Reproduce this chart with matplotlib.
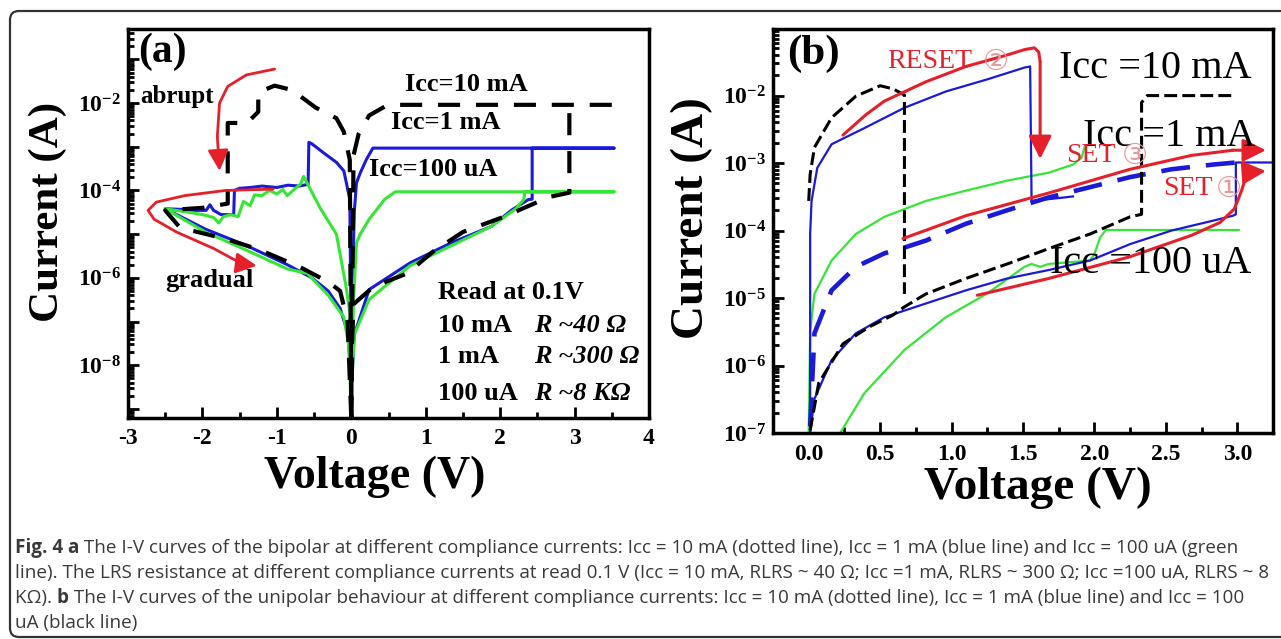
import matplotlib
matplotlib.use('Agg')
import matplotlib.pyplot as plt
import numpy as np
from matplotlib.ticker import (LogLocator, FuncFormatter, MultipleLocator,
                               NullFormatter, FormatStrFormatter)
from matplotlib.patches import FancyBboxPatch
from matplotlib.transforms import IdentityTransform

plt.rcParams['font.family'] = ['Liberation Serif', 'DejaVu Serif']
plt.rcParams['font.weight'] = 'bold'
plt.rcParams['axes.unicode_minus'] = False
plt.rcParams['mathtext.fontset'] = 'custom'
plt.rcParams['mathtext.rm'] = 'Liberation Serif:bold'
plt.rcParams['mathtext.bf'] = 'Liberation Serif:bold'
plt.rcParams['mathtext.it'] = 'Liberation Serif:bold:italic'

BLUE = '#1a1ad8'
GREEN = '#35e635'
RED = '#e6202a'
PINK = '#e79a9a'

# ---------------- panel (a): bipolar, voltage (V) / current (A)
blue_a_v = [0.0, 0.01, 0.04, 0.24, 0.79, 1.34, 1.88, 2.16, 2.38, 2.43, 2.43, 3.53,
            0.29, 0.20, 0.12, 0.07, 0.04, 0.02, 0.0, -0.01, -0.02, -0.10, -0.20,
            -0.37, -0.53, -0.57, -0.58, -0.70, -0.85, -1.00, -1.20, -1.35, -1.50,
            -1.57, -1.58, -1.75, -1.85, -1.90, -1.95, -2.10, -2.30, -2.50, -2.20,
            -1.96, -1.41, -0.86, -0.53, -0.31, -0.15, -0.04, -0.01, 0.0]
blue_a_i = [6.3e-10, 5e-9, 5e-8, 5.4e-7, 2.2e-6, 6.3e-6, 1.5e-5, 3.6e-5, 6.2e-5, 6.3e-5,
            9.3e-4, 9.3e-4, 9.3e-4, 5e-4, 2.5e-4, 1.5e-4, 3.2e-5, 1e-6, 6.3e-10, 1e-6,
            6.3e-5, 2.8e-4, 4.4e-4, 7.2e-4, 1.17e-3, 1.26e-3, 1.38e-4, 1.26e-4, 1.32e-4,
            1.17e-4, 1.26e-4, 1.17e-4, 1.12e-4, 1e-4, 2.8e-5, 2.8e-5, 3.5e-5, 4.7e-5,
            3.5e-5, 3.5e-5, 3.7e-5, 3.8e-5, 2.1e-5, 1.3e-5, 5.5e-6, 2e-6, 1e-6, 5e-7,
            2e-7, 5e-8, 5e-9, 6.3e-10]

green_a_v = [0.0, 0.01, 0.04, 0.24, 0.79, 1.34, 1.88, 2.21, 2.32, 2.33, 3.53, 0.59,
             0.45, 0.24, 0.12, 0.07, 0.03, 0.0, -0.02, -0.07, -0.20, -0.42, -0.64,
             -0.68, -0.75, -0.86, -0.92, -1.00, -1.10, -1.20, -1.30, -1.36, -1.45,
             -1.52, -1.62, -1.72, -1.78, -1.85, -2.00, -2.20, -2.50, -1.96, -1.41,
             -0.86, -0.59, -0.31, -0.10, -0.03, 0.0]
green_a_i = [6.3e-10, 5e-9, 5e-8, 3.2e-7, 1.9e-6, 5.4e-6, 1.5e-5, 3.8e-5, 6.3e-5, 9.3e-5,
             9.3e-5, 9.3e-5, 6.3e-5, 2.2e-5, 1e-5, 6.3e-6, 3.2e-7, 6.3e-10, 1.6e-7,
             6.3e-7, 1e-5, 4e-5, 2.1e-4, 1.4e-4, 1.12e-4, 7.6e-5, 1.05e-4, 8.3e-5, 1e-4,
             7.6e-5, 7.9e-5, 4.5e-5, 5.6e-5, 2.5e-5, 2.8e-5, 2.5e-5, 1.8e-5, 2.4e-5,
             2.8e-5, 3.2e-5, 3.8e-5, 1.12e-5, 4.3e-6, 1.6e-6, 1.26e-6, 4e-7, 1.26e-7,
             2.5e-8, 6.3e-10]

black_a_set_v = [0.0, 0.01, 0.03, 0.30, 0.75, 1.10, 1.50, 2.05, 2.66, 2.93, 2.93]
black_a_set_i = [6.3e-10, 3.2e-8, 2.5e-7, 6.3e-7, 1.26e-6, 4e-6, 1.12e-5, 2.5e-5,
                 7.1e-5, 8.9e-5, 9.1e-3]
black_a_reset_v = [3.5, 0.65, 0.45, 0.24, 0.10, 0.03, 0.0, -0.02, -0.10, -0.20, -0.48,
                   -0.80, -1.03, -1.20, -1.25, -1.25, -1.40, -1.66, -1.66, -2.00, -2.50,
                   -2.30, -1.70, -1.25, -0.70, -0.30, -0.15, -0.05, 0.0]
black_a_reset_i = [9.1e-3, 9.1e-3, 8.3e-3, 5.2e-3, 2e-3, 6.3e-4, 6.3e-10, 5e-4, 2.2e-3,
                   4.5e-3, 7.9e-3, 2e-2, 2.5e-2, 1.9e-2, 1.7e-2, 6.3e-3, 3.5e-3, 3.5e-3,
                   5e-5, 4e-5, 3.5e-5, 1.4e-5, 7.9e-6, 4.5e-6, 1.8e-6, 7.9e-7, 5e-7, 1e-7,
                   6.3e-10]

abrupt_v = [-1.03, -1.41, -1.66, -1.77, -1.80, -1.77]
abrupt_i = [6.0e-2, 4.4e-2, 2.4e-2, 1.0e-2, 1.7e-3, 2.8e-4]
gradual_v = [-1.05, -1.69, -2.24, -2.62, -2.73, -2.65, -2.35, -1.85, -1.47, -1.27]
gradual_i = [1.07e-4, 1.0e-4, 7.6e-5, 5.4e-5, 3.5e-5, 2.2e-5, 1.12e-5, 4.7e-6, 2.1e-6, 1.9e-6]

# ---------------- panel (b): unipolar
black_b_set_v = [0.01, 0.07, 0.24, 0.42, 0.59, 0.67, 0.82, 1.10, 1.39, 1.68, 1.97, 2.25,
                 2.33, 2.33, 2.37, 2.97]
black_b_set_i = [1.1e-7, 5.5e-7, 2.1e-6, 3.7e-6, 5.6e-6, 7.4e-6, 1.15e-5, 1.95e-5, 3.2e-5,
                 5.4e-5, 8.9e-5, 1.6e-4, 1.74e-4, 7.9e-3, 1.0e-2, 1.0e-2]
black_b_reset_v = [0.0, 0.01, 0.04, 0.16, 0.33, 0.50, 0.59, 0.67, 0.67]
black_b_reset_i = [2.75e-4, 6.8e-4, 1.7e-3, 4.7e-3, 9.8e-3, 1.4e-2, 1.26e-2, 1.02e-2, 1.15e-5]

blue_b_set_v = [0.01, 0.04, 0.16, 0.33, 0.53, 0.82, 1.10, 1.39, 1.68, 1.97, 2.25, 2.54,
                2.83, 2.97, 2.99, 2.99, 3.26]
blue_b_set_i = [1e-7, 3.2e-7, 1.2e-6, 3.0e-6, 5.2e-6, 8.3e-6, 1.3e-5, 1.95e-5, 2.6e-5,
                3.6e-5, 6.3e-5, 1e-4, 1.4e-4, 1.66e-4, 1.74e-4, 1.02e-3, 1.02e-3]
blue_b_reset_v = [0.01, 0.01, 0.02, 0.06, 0.16, 0.39, 0.67, 0.96, 1.25, 1.51, 1.55, 1.56,
                  1.70, 1.85]
blue_b_reset_i = [1e-7, 8.9e-5, 2.75e-4, 8.5e-4, 1.9e-3, 3.3e-3, 6.6e-3, 1.15e-2, 1.74e-2,
                  2.6e-2, 2.7e-2, 2.75e-4, 2.95e-4, 3.2e-4]
blue_b_dash_v = [0.01, 0.04, 0.16, 0.33, 0.53, 0.67, 0.82, 1.10, 1.39, 1.68, 1.97, 2.25,
                 2.54, 2.83, 2.99]
blue_b_dash_i = [1.26e-7, 3.0e-6, 1.3e-5, 2.9e-5, 4.6e-5, 5.6e-5, 7.1e-5, 1.26e-4, 2.0e-4,
                 3.1e-4, 4.4e-4, 6.2e-4, 8.1e-4, 9.5e-4, 1.02e-3]

green_b_up_v = [0.0, 0.01, 0.04, 0.16, 0.33, 0.53, 0.82, 1.10, 1.39, 1.68, 1.85, 1.91, 1.93]
green_b_up_i = [1e-7, 3.2e-6, 1.15e-5, 3.6e-5, 8.9e-5, 1.6e-4, 2.75e-4, 3.9e-4, 5.5e-4,
                7.2e-4, 9.5e-4, 1.2e-3, 1.7e-3]
green_b_low_v = [0.22, 0.39, 0.67, 0.96, 1.25, 1.51, 1.56, 1.62, 1.68, 1.97, 2.00, 2.04,
                 2.08, 3.01]
green_b_low_i = [1e-7, 3.9e-7, 1.7e-6, 5.2e-6, 1.17e-5, 2.9e-5, 3.2e-5, 2.9e-5, 3.2e-5,
                 3.6e-5, 4.5e-5, 7.9e-5, 1.02e-4, 1.02e-4]

reset2_v = [0.24, 0.40, 0.53, 0.82, 1.10, 1.39, 1.51, 1.58, 1.61, 1.62, 1.62]
reset2_i = [2.6e-3, 5.2e-3, 8.3e-3, 1.6e-2, 2.7e-2, 4.0e-2, 4.8e-2, 5.1e-2, 4.4e-2, 3.2e-2, 1.15e-3]
set3_v = [0.66, 1.10, 1.68, 2.25, 2.68, 2.97, 3.20]
set3_i = [7.6e-5, 1.66e-4, 3.6e-4, 8.1e-4, 1.3e-3, 1.55e-3, 1.55e-3]
set1_v = [1.18, 1.68, 2.25, 2.68, 2.88, 2.98, 3.03, 3.06, 3.12, 3.20]
set1_i = [1.1e-5, 1.95e-5, 4.1e-5, 8.5e-5, 1.32e-4, 2.1e-4, 3.9e-4, 6.2e-4, 7.4e-4, 7.6e-4]

caption_lines = [
    [("Fig. 4 a", 'bold'),
     (" The I-V curves of the bipolar at different compliance currents: Icc = 10 mA "
      "(dotted line), Icc = 1 mA (blue line) and Icc = 100 uA (green", 'normal')],
    [("line). The LRS resistance at different compliance currents at read 0.1 V "
      "(Icc = 10 mA, RLRS ~ 40 Ω; Icc =1 mA, RLRS ~ 300 Ω; Icc =100 uA, RLRS ~ 8", 'normal')],
    [("KΩ). ", 'normal'), ("b", 'bold'),
     (" The I-V curves of the unipolar behaviour at different compliance currents: "
      "Icc = 10 mA (dotted line), Icc = 1 mA (blue line) and Icc = 100", 'normal')],
    [("uA (black line)", 'normal')],
]


def red_arrow(ax, v, i, lw, ms):
    ax.plot(v[:-1], i[:-1], color=RED, lw=lw, solid_capstyle='round', solid_joinstyle='round')
    ax.annotate('', xy=(v[-1], i[-1]), xytext=(v[-2], i[-2]),
                arrowprops=dict(arrowstyle='-|>,head_length=0.7,head_width=0.35',
                                color=RED, lw=lw, shrinkA=0, shrinkB=0, mutation_scale=ms))


def decade_fmt(every):
    def f(y, pos):
        e = int(round(np.log10(y)))
        if e % every:
            return ''
        return r'$10^{%d}$' % e
    return FuncFormatter(f)


fig = plt.figure(figsize=(12.81, 6.39), dpi=100)
ax_a = fig.add_axes([128 / 1281, 221 / 639, 521 / 1281, 389 / 639])
ax_b = fig.add_axes([773 / 1281, 206 / 639, 500 / 1281, 404 / 639])

for ax in (ax_a, ax_b):
    ax.set_yscale('log')
    for s in ax.spines.values():
        s.set_linewidth(2.5)
    ax.tick_params(which='both', direction='in', top=False, right=False,
                   labelsize=17, width=2)
    ax.tick_params(which='major', length=8)
    ax.tick_params(which='minor', length=4.5)
    ax.tick_params(axis='y', pad=5)
    ax.yaxis.set_major_locator(LogLocator(base=10, numticks=30))
    ax.yaxis.set_minor_locator(LogLocator(base=10, subs=np.arange(2, 10), numticks=30))
    ax.yaxis.set_minor_formatter(NullFormatter())

# ---- panel a
ax_a.plot(blue_a_v, blue_a_i, color=BLUE, lw=2.2)
ax_a.plot(green_a_v, green_a_i, color=GREEN, lw=2.2)
ax_a.plot(black_a_set_v, black_a_set_i, color='black', lw=3, dashes=(5.3, 3.8))
ax_a.plot(black_a_reset_v, black_a_reset_i, color='black', lw=3, dashes=(5.3, 3.8))
red_arrow(ax_a, abrupt_v, abrupt_i, 2.0, 18)
red_arrow(ax_a, gradual_v, gradual_i, 2.0, 18)

ax_a.set_xlim(-3, 4)
ax_a.set_ylim(6.2e-10, 0.495)
ax_a.xaxis.set_major_locator(MultipleLocator(1))
ax_a.xaxis.set_minor_locator(MultipleLocator(0.5))
ax_a.xaxis.set_major_formatter(FormatStrFormatter('%d'))
ax_a.yaxis.set_major_formatter(decade_fmt(2))
ax_a.tick_params(axis='x', pad=7)

ax_a.text(-2.54, 0.148, '(a)', fontsize=30, ha='center', va='center')
ax_a.text(-2.84, 1.4e-2, 'abrupt', fontsize=18, ha='left', va='center')
ax_a.text(-2.5, 8.9e-7, 'gradual', fontsize=19, ha='left', va='center')
ax_a.text(0.72, 2.6e-2, 'Icc=10 mA', fontsize=19, ha='left', va='center')
ax_a.text(0.53, 3.5e-3, 'Icc=1 mA', fontsize=19, ha='left', va='center')
ax_a.text(0.24, 3.0e-4, 'Icc=100 uA', fontsize=19, ha='left', va='center')
ax_a.text(1.17, 4.5e-7, 'Read at 0.1V', fontsize=19, ha='left', va='center')
for lab, res, y in [('10 mA', 'R ~40 Ω', 8.3e-8), ('1 mA', 'R ~300 Ω', 1.55e-8),
                    ('100 uA', 'R ~8 KΩ', 2.3e-9)]:
    ax_a.text(1.17, y, lab, fontsize=19, ha='left', va='center')
    ax_a.text(2.46, y, res, fontsize=19, style='italic', ha='left', va='center')

# ---- panel b
ax_b.plot(green_b_up_v, green_b_up_i, color=GREEN, lw=1.6)
ax_b.plot(green_b_low_v, green_b_low_i, color=GREEN, lw=1.6)
ax_b.plot(blue_b_set_v, blue_b_set_i, color=BLUE, lw=1.6)
ax_b.plot(blue_b_reset_v, blue_b_reset_i, color=BLUE, lw=1.6)
ax_b.plot(blue_b_dash_v, blue_b_dash_i, color=BLUE, lw=3.3, dashes=(6.3, 3.5))
ax_b.plot(black_b_set_v, black_b_set_i, color='black', lw=2.2, dashes=(4.2, 1.7))
ax_b.plot(black_b_reset_v, black_b_reset_i, color='black', lw=2.2, dashes=(4.2, 1.7))
red_arrow(ax_b, reset2_v, reset2_i, 2.2, 20)
red_arrow(ax_b, set3_v, set3_i, 2.2, 20)
red_arrow(ax_b, set1_v, set1_i, 2.2, 20)

ax_b.set_xlim(-0.25, 3.25)
ax_b.set_ylim(1e-7, 0.097)
ax_b.xaxis.set_major_locator(MultipleLocator(0.5))
ax_b.xaxis.set_minor_locator(MultipleLocator(0.25))
ax_b.xaxis.set_major_formatter(FormatStrFormatter('%.1f'))
ax_b.yaxis.set_major_formatter(decade_fmt(1))
ax_b.tick_params(axis='x', pad=8)

ax_b.text(0.03, 4.2e-2, '(b)', fontsize=31, ha='center', va='center')
ax_b.text(1.75, 2.5e-2, 'Icc =10 mA', fontsize=29, fontweight='normal', ha='left', va='center')
ax_b.text(1.92, 2.5e-3, 'Icc =1 mA', fontsize=29, fontweight='normal', ha='left', va='center')
ax_b.text(1.69, 3.2e-5, 'Icc =100 uA', fontsize=29, fontweight='normal', ha='left', va='center')
for word, x0, circ, xc, y in [('RESET', 0.55, '②', 1.31, 3.2e-2),
                              ('SET', 1.80, '③', 2.28, 1.3e-3),
                              ('SET', 2.48, '①', 2.94, 4.2e-4)]:
    ax_b.text(x0, y, word, fontsize=20, fontweight='normal', color=RED, ha='left', va='center')
    ax_b.text(xc, y, circ, fontsize=21, fontweight='normal', color=PINK, ha='center',
              va='center', family=['DejaVu Sans'])

# axis titles
fig.text(48 / 1281, 1 - 212 / 639, 'Current (A)', rotation=90, fontsize=31,
         ha='center', va='center')
fig.text(375 / 1281, 1 - 477 / 639, 'Voltage (V)', fontsize=33, ha='center', va='center')
fig.text(692 / 1281, 1 - 218 / 639, 'Current (A)', rotation=90, fontsize=34,
         ha='center', va='center')
fig.text(1038 / 1281, 1 - 488 / 639, 'Voltage (V)', fontsize=34, ha='center', va='center')

# outer frame
frame = FancyBboxPatch((10, 2), 1300, 626, boxstyle='round,pad=0,rounding_size=9',
                       transform=IdentityTransform(), fill=False, lw=1.6, ec='#333333')
fig.add_artist(frame)

# caption, sized so that the longest line stays inside the frame
renderer = fig.canvas.get_renderer()
line_y = [548, 573, 598, 623]
line_end = [1265, 1265, 1238, 1281]


def put_caption(size):
    arts = []
    ends = []
    for segs, yy in zip(caption_lines, line_y):
        x = 15
        for txt, wt in segs:
            t = fig.text(x / 1281, 1 - yy / 639, txt, fontsize=size, fontweight=wt,
                         family=['Open Sans', 'DejaVu Sans'], color='#3a3a3a',
                         ha='left', va='center')
            x += t.get_window_extent(renderer).width
            arts.append(t)
        ends.append(x)
    return arts, ends


arts, ends = put_caption(12)
scale = min((e_ref - 15) / (e - 15) for e_ref, e in zip(line_end, ends))
for t in arts:
    t.remove()
put_caption(12 * scale)

fig.savefig('out.png', dpi=100, facecolor='white')
